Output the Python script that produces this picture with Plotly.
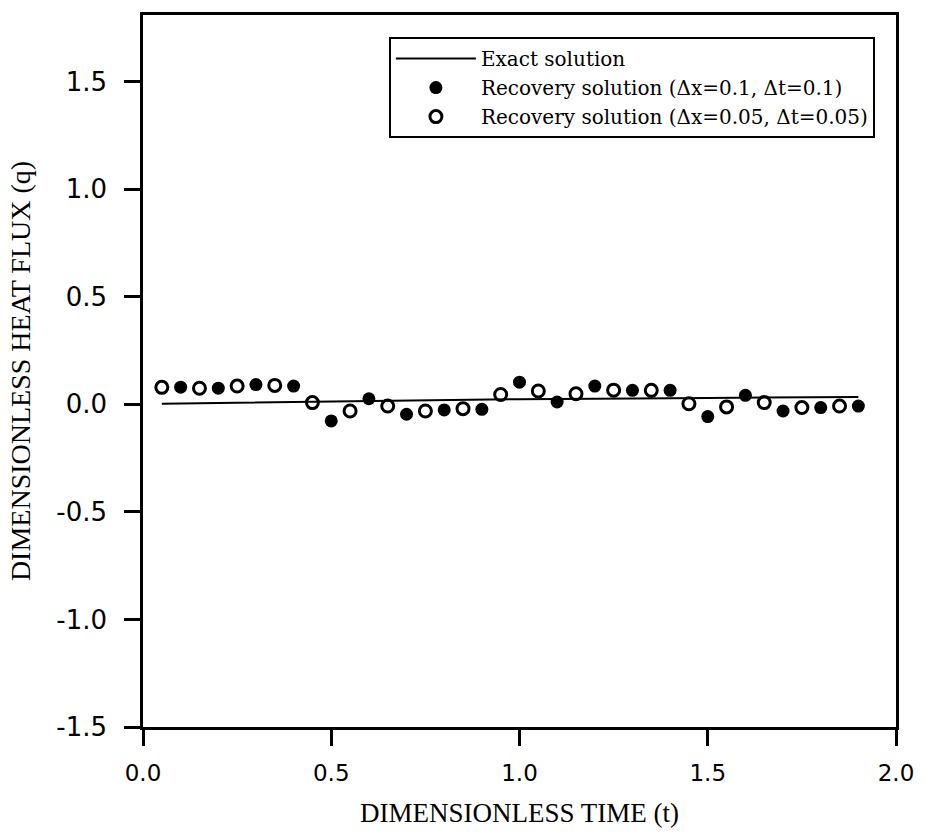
import plotly.graph_objects as go

# Exact solution
t_exact = [0.05, 0.5, 1.0, 1.5, 1.9]
q_exact = [0.003, 0.013, 0.024, 0.030, 0.034]

# Recovery solution (dx=0.1, dt=0.1) - filled circles
t_coarse = [0.1, 0.2, 0.3, 0.4, 0.5, 0.6, 0.7, 0.8, 0.9, 1.0,
            1.1, 1.2, 1.3, 1.4, 1.5, 1.6, 1.7, 1.8, 1.9]
q_coarse = [0.080, 0.075, 0.092, 0.085, -0.077, 0.026, -0.046, -0.026, -0.023, 0.103,
            0.011, 0.085, 0.065, 0.065, -0.057, 0.042, -0.031, -0.015, -0.008]

# Recovery solution (dx=0.05, dt=0.05) - open circles
t_fine = [0.05, 0.15, 0.25, 0.35, 0.45, 0.55, 0.65, 0.75, 0.85, 0.95,
          1.05, 1.15, 1.25, 1.35, 1.45, 1.55, 1.65, 1.75, 1.85]
q_fine = [0.079, 0.075, 0.085, 0.088, 0.008, -0.031, -0.008, -0.031, -0.020, 0.046,
          0.062, 0.049, 0.066, 0.065, 0.003, -0.012, 0.008, -0.015, -0.008]

x_ticks = [0.0, 0.5, 1.0, 1.5, 2.0]
y_ticks = [-1.5, -1.0, -0.5, 0.0, 0.5, 1.0, 1.5]

fig = go.Figure()
fig.add_trace(go.Scatter(x=t_exact, y=q_exact, mode="lines", name="Exact solution",
                         line=dict(color="black", width=2)))
fig.add_trace(go.Scatter(x=t_coarse, y=q_coarse, mode="markers",
                         name="Recovery solution (\u0394x=0.1, \u0394t=0.1)",
                         marker=dict(symbol="circle", size=13, color="black")))
fig.add_trace(go.Scatter(x=t_fine, y=q_fine, mode="markers",
                         name="Recovery solution (\u0394x=0.05, \u0394t=0.05)",
                         marker=dict(symbol="circle-open", size=12, color="black",
                                     line=dict(width=3, color="black"))))

axis_common = dict(showline=True, linecolor="black", linewidth=2.5, mirror=True,
                   showgrid=False, zeroline=False, ticks="outside", ticklen=16,
                   tickwidth=2.5, tickcolor="black")

fig.update_layout(
    width=926, height=835,
    margin=dict(l=143, r=27, t=12, b=106),
    plot_bgcolor="white", paper_bgcolor="white",
    showlegend=True,
    legend=dict(x=0.972, y=0.969, xanchor="right", yanchor="top",
                bgcolor="white", bordercolor="black", borderwidth=2,
                font=dict(family="DejaVu Serif", size=20, color="black"),
                itemwidth=80, tracegroupgap=0),
    xaxis=dict(range=[0, 2.0], tickvals=x_ticks, ticktext=[f"{v:.1f}" for v in x_ticks],
               tickfont=dict(family="DejaVu Sans", size=23, color="black"),
               title=dict(text="DIMENSIONLESS TIME (t)", standoff=18,
                          font=dict(family="Liberation Serif", size=27, color="black")),
               ticklabelstandoff=8, **axis_common),
    yaxis=dict(range=[-1.5, 1.81], tickvals=y_ticks, ticktext=[f"{v:.1f}" for v in y_ticks],
               tickfont=dict(family="DejaVu Sans", size=26, color="black"),
               title=dict(text="DIMENSIONLESS HEAT FLUX (q)", standoff=18,
                          font=dict(family="Liberation Serif", size=28, color="black")),
               ticklabelstandoff=12, **axis_common),
)

fig.write_html("out.html")
